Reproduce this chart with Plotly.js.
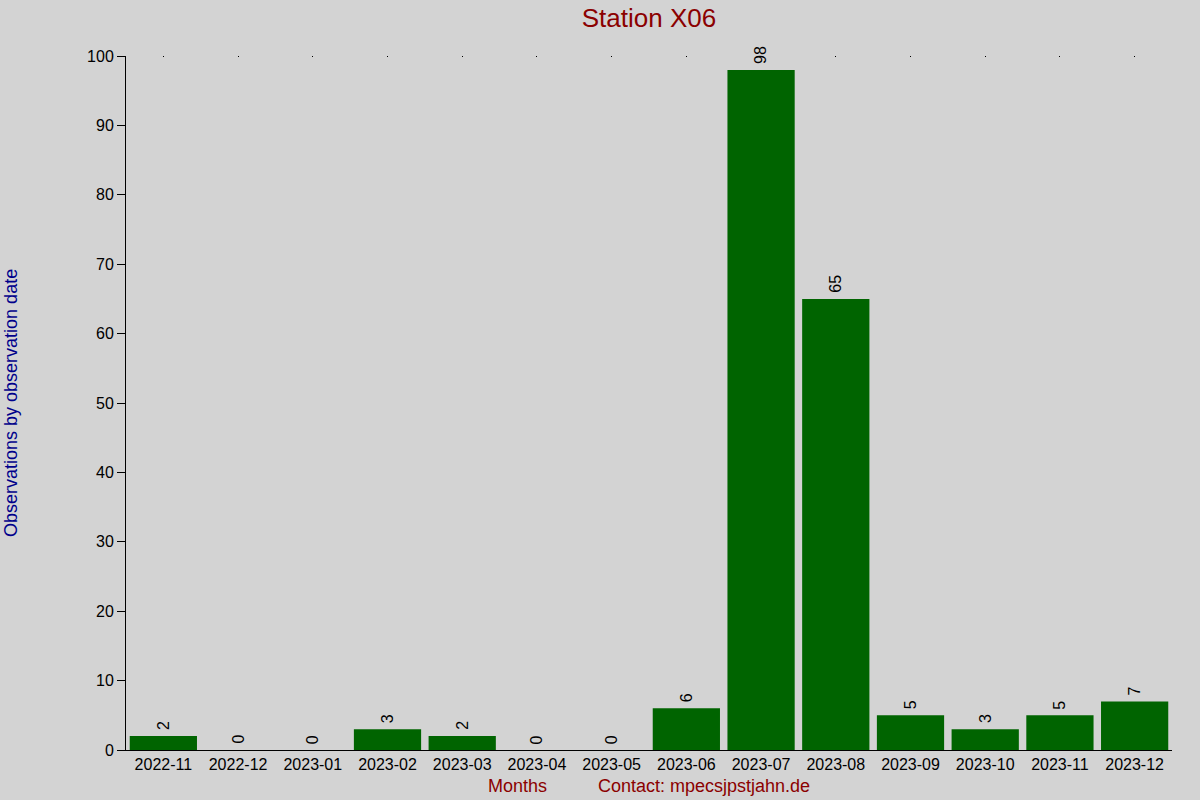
<!DOCTYPE html>
<html>
<head>
<meta charset="utf-8">
<script src="https://cdn.plot.ly/plotly-3.0.1.min.js"></script>
<style>html,body{margin:0;padding:0;background:#d3d3d3;}#chart{width:1200px;height:800px;}</style>
</head>
<body>
<div id="chart"></div>
<script>
const months = ["2022-11","2022-12","2023-01","2023-02","2023-03","2023-04","2023-05","2023-06","2023-07","2023-08","2023-09","2023-10","2023-11","2023-12"];
const observations = [2,0,0,3,2,0,0,6,98,65,5,3,5,7];
const yTicks = [0,10,20,30,40,50,60,70,80,90,100];

const font = "Liberation Sans, Arial, sans-serif";
const bars = {
  type: "bar",
  x: months,
  y: observations,
  marker: {color: "#006400", line: {width: 0}},
  hoverinfo: "x+y"
};
const dots = {
  type: "scatter", mode: "markers",
  x: months.map((m,i)=>i), y: months.map(()=>100),
  xaxis: "x2", marker: {opacity: 0}, hoverinfo: "skip", showlegend: false
};
const valueLabels = months.map((m, i) => ({
  x: m, y: observations[i], xref: "x", yref: "y",
  text: String(observations[i]), textangle: -90,
  xanchor: "center", yanchor: "bottom", yshift: 4,
  showarrow: false, font: {family: font, size: 16, color: "#000"}
}));
const layout = {
  width: 1200, height: 800,
  paper_bgcolor: "#d3d3d3", plot_bgcolor: "#d3d3d3",
  margin: {l: 126, r: 28, t: 56, b: 50},
  showlegend: false,
  bargap: 0.1,
  font: {family: font, color: "#000"},
  title: {text: "Station X06", font: {family: font, size: 26, color: "#8b0000"}, xref: "paper", x: 0.5, xanchor: "center", yref: "container", y: 0.978, yanchor: "middle"},
  xaxis: {
    type: "category", range: [-0.5, 13.5],
    showline: true, linecolor: "#000", linewidth: 1,
    ticks: "", tickfont: {family: font, size: 16, color: "#000"},
    showgrid: false, zeroline: false, fixedrange: true
  },
  xaxis2: {
    overlaying: "x", side: "top", range: [-0.5, 13.5],
    tickvals: months.map((m,i)=>i), ticks: "inside", ticklen: 1, tickcolor: "#000", tickwidth: 1,
    showticklabels: false, showgrid: false, zeroline: false, showline: false
  },
  yaxis: {
    range: [0, 100], tickvals: yTicks,
    showline: true, linecolor: "#000", linewidth: 1,
    ticks: "outside", ticklen: 8, tickcolor: "#000",
    tickfont: {family: font, size: 16, color: "#000"},
    showgrid: false, zeroline: false
  },
  annotations: valueLabels.concat([
    {text: "Observations by observation date", xref: "paper", yref: "paper", x: (11-126)/1046, y: 0.5, textangle: -90, xanchor: "center", yanchor: "middle", showarrow: false, font: {family: font, size: 18, color: "#00008b"}},
    {text: "Months", xref: "paper", yref: "paper", x: (517-126)/1046, y: -50/694, yshift: 2, xanchor: "center", yanchor: "bottom", showarrow: false, font: {family: font, size: 18, color: "#8b0000"}},
    {text: "Contact: mpecsjpstjahn.de", xref: "paper", yref: "paper", x: (704-126)/1046, y: -50/694, yshift: 2, xanchor: "center", yanchor: "bottom", showarrow: false, font: {family: font, size: 18, color: "#8b0000"}}
  ])
};
Plotly.newPlot("chart", [bars, dots], layout, {displayModeBar: false, staticPlot: true});
</script>
</body>
</html>
